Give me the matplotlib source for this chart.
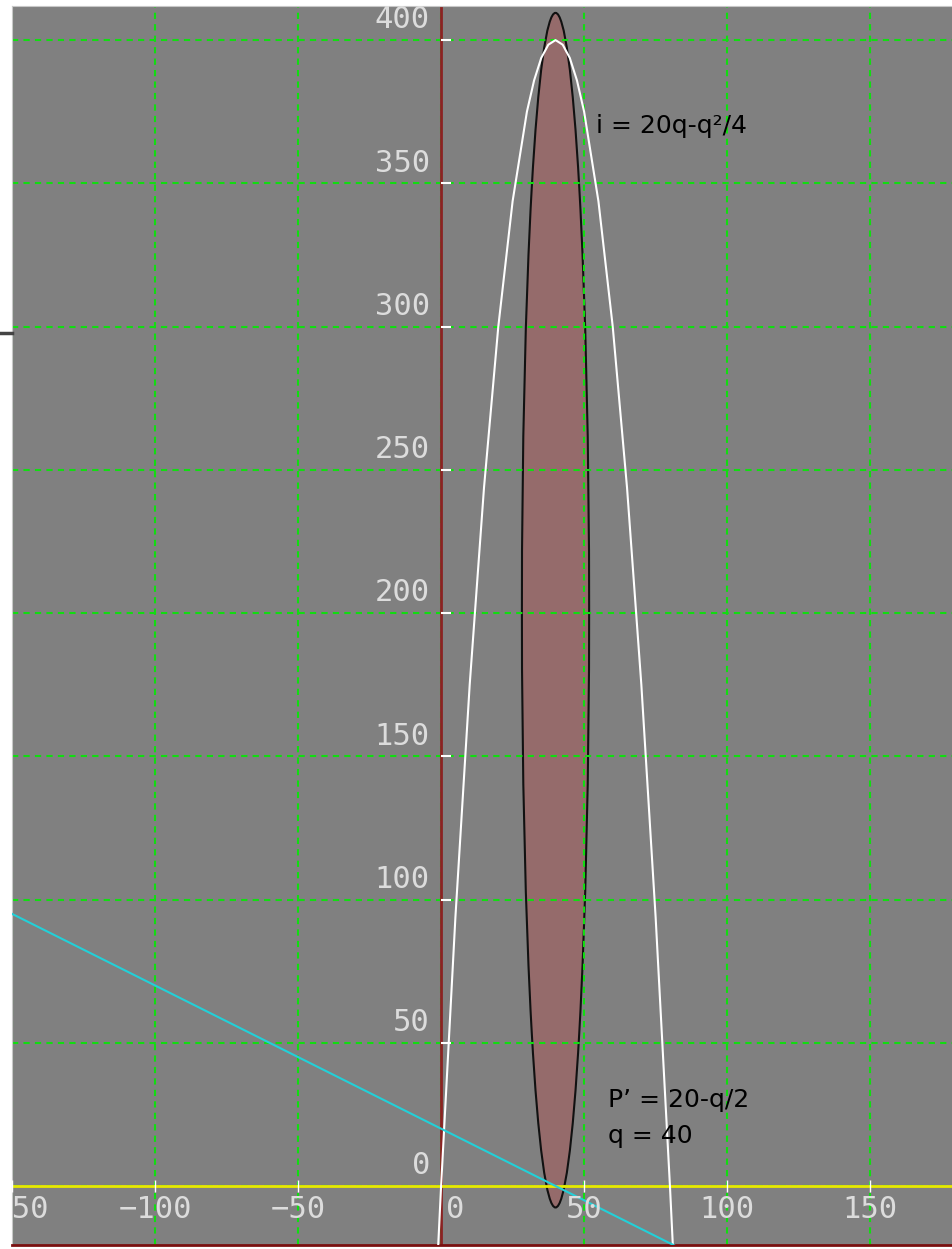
import matplotlib
matplotlib.use('Agg')
import matplotlib.pyplot as plt
from matplotlib.patches import Ellipse
from matplotlib.lines import Line2D

# kurva penerimaan i = 20q - q^2/4 (titik)
q_kurva = [-2, 0, 5, 10, 15, 20, 25, 30, 32.5, 35, 37.5, 40, 42.5, 45, 47.5,
           50, 55, 60, 65, 70, 75, 80, 82]
i_kurva = [-41, 0, 93.75, 175, 243.75, 300, 343.75, 375, 385.9, 393.75, 398.4,
           400, 398.4, 393.75, 385.9, 375, 343.75, 300, 243.75, 175, 93.75, 0, -41]

# garis P' = 20 - q/2
q_garis = [-150, 90]
p_garis = [95, -25]

# elips (pusat, lebar, tinggi)
elips_pusat = (40, 201)
elips_lebar = 23.5
elips_tinggi = 417

xticks = [-150, -100, -50, 0, 50, 100, 150]
yticks = [0, 50, 100, 150, 200, 250, 300, 350, 400]

fig = plt.figure(figsize=(9.52, 12.49), dpi=100)
ax = fig.add_axes([12/952, 4/1249, 940/952, 1239/1249])
ax.set_facecolor('#808080')
ax.set_xlim(-150, 178.6)
ax.set_ylim(-20.6, 411.9)

ax.set_xticks(xticks)
ax.set_yticks(yticks)
ax.tick_params(length=0, labelbottom=False, labelleft=False)
ax.set_axisbelow('line')
ax.grid(color='#11dd11', linestyle=(0, (3, 2.5)), linewidth=1.5)

for s in ['top', 'left']:
    ax.spines[s].set_color('#c8c8c8')
ax.spines['right'].set_visible(False)
ax.spines['bottom'].set_color('#7a1010')
ax.spines['bottom'].set_linewidth(2)

el = Ellipse(elips_pusat, elips_lebar, elips_tinggi, facecolor='#956b6b',
             edgecolor='#111111', linewidth=1.5, zorder=1)
ax.add_patch(el)

ax.axvline(0, color='#8b2222', linewidth=2, zorder=2)
ax.axhline(0, color='#e8e800', linewidth=2, zorder=2)

ax.plot(q_kurva, i_kurva, color='white', linewidth=1.5, zorder=3)
ax.plot(q_garis, p_garis, color='#22d0d8', linewidth=1.5, zorder=3)

# tanda tick putih
ax.plot([x for x in xticks if x != 0], [0]*(len(xticks)-1), linestyle='none',
        marker='|', markersize=8, color='white', zorder=4)
ax.plot([0]*(len(yticks)-1), [y for y in yticks if y != 0], linestyle='none',
        marker=[(0, 0), (1, 0)], markersize=14, markeredgewidth=1.5,
        color='white', zorder=4)

fnt = dict(family='DejaVu Sans Mono', fontsize=22, color='#dcdcdc')
for y in yticks:
    ax.annotate(str(y), (0, y), xytext=(-8, 14.5), textcoords='offset points',
                ha='right', va='center', clip_on=True, **fnt)
for x in xticks:
    dx = 10 if x == 0 else 0
    ax.annotate(str(x).replace('-', '\u2212'), (x, 0), xytext=(dx, -17),
                textcoords='offset points', ha='center', va='center',
                clip_on=True, **fnt)

lbl = dict(family='DejaVu Sans', fontsize=18, color='black')
ax.text(54, 370, 'i = 20q-q\u00b2/4', ha='left', va='center', **lbl)
ax.text(58.5, 30, 'P\u2019 = 20-q/2', ha='left', va='center', **lbl)
ax.text(58.5, 17.5, 'q = 40', ha='left', va='center', **lbl)

fig.add_artist(Line2D([0, 12/952], [1 - 333/1249]*2, color='#444444', linewidth=2.5))

fig.savefig('out.png', dpi=100, facecolor='white')
